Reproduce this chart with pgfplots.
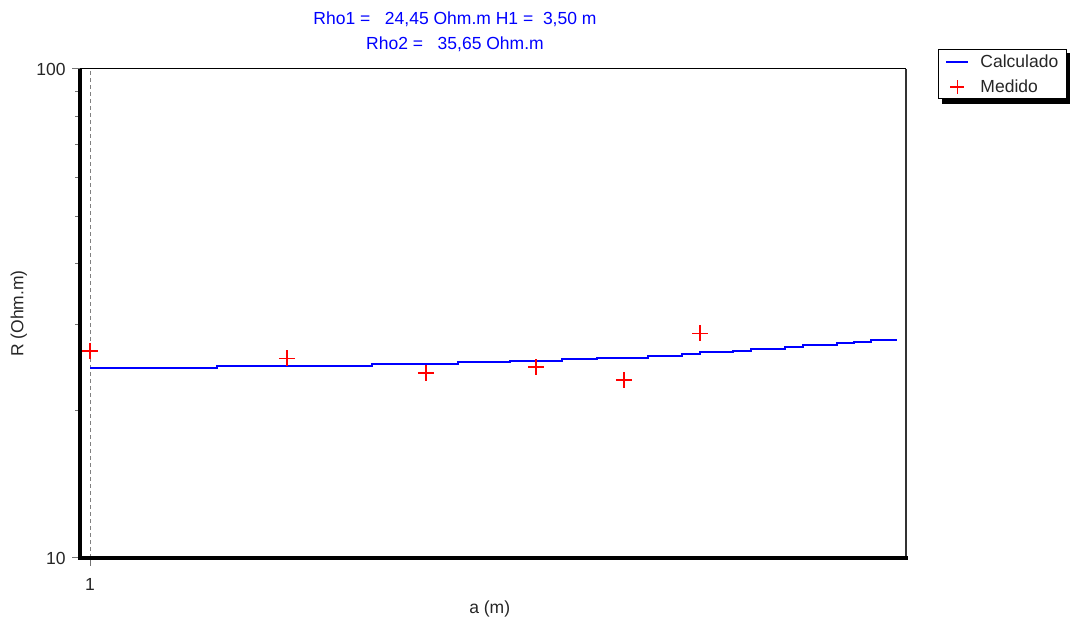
\documentclass[border=0pt]{standalone}
\usepackage{fontspec}
\setmainfont{Liberation Sans}
\usepackage{pgfplots}
\pgfplotsset{compat=1.18}
\newcommand{\cf}{\fontsize{17.5bp}{25bp}\selectfont}
\begin{document}
\begin{tikzpicture}
\path[use as bounding box] (0,0) rectangle (1072bp,621bp);
% legend shadow (behind the legend box)
\fill[black] (942bp,517bp) rectangle (1070bp,568bp);
\begin{axis}[
  at={(80bp,63bp)}, anchor=south west,
  scale only axis, width=826bp, height=489bp,
  xmode=log, ymode=log,
  xmin=0.9654, xmax=17.69, ymin=10, ymax=100,
  clip=false,
  axis line style={draw=none},
  xtick={1}, xticklabels={1},
  ytick={10,100}, yticklabels={10,100},
  xminorticks=false,
  tick align=outside,
  major tick length=8bp, minor tick length=5bp,
  every tick/.style={black!55, line width=1bp},
  xtick pos=bottom, ytick pos=left,
  xmajorgrids,
  grid style={black!50, dash pattern=on 4bp off 3bp, line width=1bp},
  tick label style={font=\cf, black!85},
  xticklabel style={yshift=-9bp},
  yticklabel style={xshift=-3bp},
  label style={font=\cf, black!85},
  xlabel={a (m)},
  xlabel style={at={(rel axis cs:0.496,-0.104)}, anchor=center},
  ylabel={R (Ohm.m)},
  ylabel style={at={(rel axis cs:-0.074,0.5)}, anchor=center, rotate=0},
  title={Rho1 = \ \ 24,45 Ohm.m H1 = \ 3,50 m\\Rho2 = \ \ 35,65 Ohm.m},
  title style={at={(rel axis cs:0.454,1.064)}, anchor=center, align=center, font=\cf, text=blue},
  legend style={at={(rel axis cs:1.0387,1.0409)}, anchor=north west,
    font=\cf, draw=black, fill=white, line width=1bp,
    inner xsep=7bp, inner ysep=4bp, row sep=9bp,
    /tikz/every odd column/.append style={column sep=10bp},
    nodes={inner sep=1bp, text=black!85}},
  legend cell align=left,
]
\addplot[blue, line width=2bp, const plot,
  legend image code/.code={\draw[draw=blue, line width=2bp] (0bp,0bp) -- (22bp,0bp);}]
  coordinates {
  (1,24.43) (1.564,24.66) (2.699,24.89) (3.653,25.13) (4.387,25.28)
  (5.267,25.48) (5.961,25.68) (7.133,25.92) (8.04,26.17) (8.566,26.34)
  (9.620,26.54) (10.25,26.75) (11.55,27.04) (12.31,27.30) (13.88,27.48)
  (14.73,27.61) (15.64,27.87) (17.14,27.87)};
\addlegendentry{Calculado}
\addplot[red, only marks, mark=+, mark size=8bp, line width=1.6bp,
  legend image code/.code={\draw[draw=red, line width=1.5bp] (4bp,0bp) -- (18bp,0bp) (11bp,-7bp) -- (11bp,7bp);}]
  coordinates {(1,26.5) (2.0,25.6) (3.264,23.9) (4.81,24.55) (6.554,23.1) (8.566,28.8)};
\addlegendentry{Medido}
\draw[black, line width=1bp] (rel axis cs:0,1) -- (rel axis cs:1,1);
\draw[black!80, line width=2.5bp] (rel axis cs:1,0) -- (rel axis cs:1,1);
\draw[black, line width=3.5bp] (rel axis cs:0,-0.0035) -- (rel axis cs:0,1);
\draw[black, line width=3.5bp] (rel axis cs:0,0) -- (rel axis cs:1.002,0);
\end{axis}
\end{tikzpicture}
\end{document}
